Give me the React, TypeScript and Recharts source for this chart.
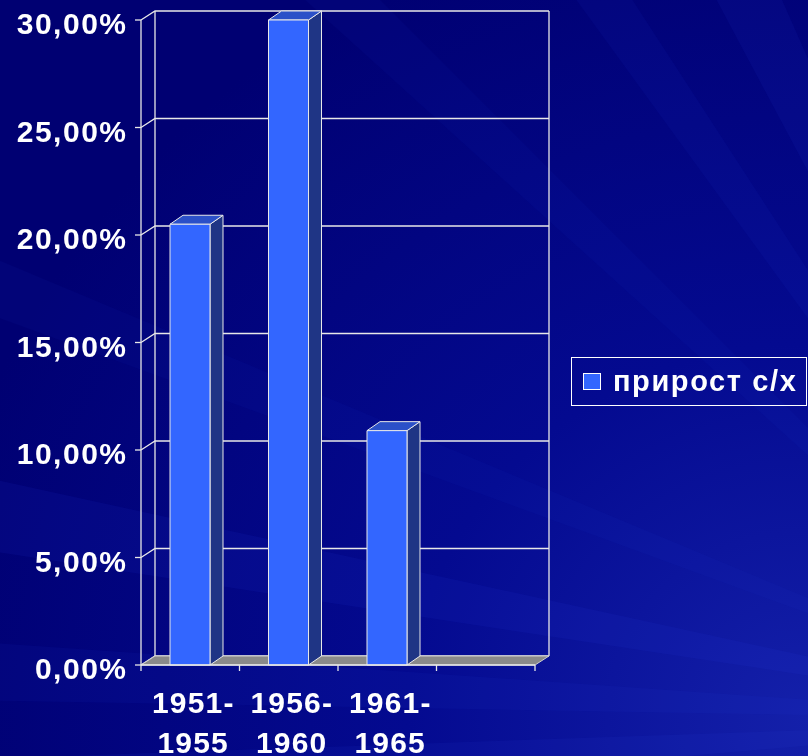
import React from "react";
import { BarChart, Bar, XAxis, YAxis, CartesianGrid, ReferenceArea, Legend } from "recharts";

// периоды (4-я категория пустая, как в оригинале)
const categories = ["1951-1955", "1956-1960", "1961-1965", ""];
const growth: (number | null)[] = [20.5, 30.0, 10.9, null];
const yTicks = [0, 5, 10, 15, 20, 25, 30];
const seriesName = "прирост с/х";

const data = categories.map((period, i) => ({ period, growth: growth[i] }));

const DX = 14; // глубина стенки
const DY = -9;
const BAR_DX = 13;
const BAR_DY = -9;
const LINE = "#E8E8E8";
const FONT = "'Liberation Sans', Arial, sans-serif";

function fmtPct(v: number): string {
  return `${v.toFixed(2).replace(".", ",")}%`;
}

function Background() {
  const P = "1100,720";
  const rays = [
    ["-50,240", "-50,300", 0.05],
    ["-50,470", "-50,545", 0.09],
    ["-50,640", "-50,700", 0.07],
    ["250,-50", "330,-50", 0.05],
    ["540,-50", "600,-50", 0.07],
    ["690,-50", "760,-50", 0.08],
    ["-50,760", "-50,820", 0.08],
  ] as const;
  return (
    <svg width={808} height={756} style={{ position: "absolute", left: 0, top: 0 }}>
      <defs>
        <radialGradient id="bg" cx="100%" cy="95%" r="110%">
          <stop offset="0" stopColor="#1420aa" />
          <stop offset="0.45" stopColor="#040a90" />
          <stop offset="1" stopColor="#000072" />
        </radialGradient>
      </defs>
      <rect width={808} height={756} fill="url(#bg)" />
      {rays.map(([a, b, o], i) => (
        <polygon key={i} points={`${P} ${a} ${b}`} fill="#3048e8" opacity={o} />
      ))}
    </svg>
  );
}

// задняя стенка: линии сетки со сдвигом в глубину
function wallLine(props: any) {
  const { x1, x2, y1 } = props;
  return (
    <polyline
      key={`wall-${y1}`}
      points={`${x1},${y1} ${x1 + DX},${y1 + DY} ${x2 + DX},${y1 + DY}`}
      fill="none"
      stroke={LINE}
      strokeWidth={1.3}
    />
  );
}

function WallAndFloor(props: any) {
  const { x, y, width, height } = props;
  const bottom = y + height;
  const right = x + width;
  return (
    <g>
      <line x1={x + DX} y1={y + DY} x2={x + DX} y2={bottom + DY} stroke={LINE} strokeWidth={1.3} />
      <line x1={right + DX} y1={y + DY} x2={right + DX} y2={bottom + DY} stroke={LINE} strokeWidth={1.3} />
      <polygon
        points={`${x},${bottom} ${right},${bottom} ${right + DX},${bottom + DY} ${x + DX},${bottom + DY}`}
        fill="#8a8a8a"
        stroke="#cfcfcf"
        strokeWidth={1}
      />
    </g>
  );
}

function Bar3D(props: any) {
  const { x, y, width, height } = props;
  if (height == null || height <= 0) return null;
  const r = x + width;
  const b = y + height;
  return (
    <g stroke={LINE} strokeWidth={1} strokeLinejoin="round">
      <polygon points={`${r},${y} ${r + BAR_DX},${y + BAR_DY} ${r + BAR_DX},${b + BAR_DY} ${r},${b}`} fill="#1f3585" />
      <polygon points={`${x},${y} ${r},${y} ${r + BAR_DX},${y + BAR_DY} ${x + BAR_DX},${y + BAR_DY}`} fill="#2b50c8" />
      <rect x={x} y={y} width={width} height={height} fill="#3366FF" />
    </g>
  );
}

function YTick({ x, y, payload }: any) {
  return (
    <text
      x={x + 1.5}
      y={y + 14}
      textAnchor="end"
      fill="#fff"
      fontFamily={FONT}
      fontWeight="bold"
      fontSize={30}
      letterSpacing={1.5}
    >
      {fmtPct(payload.value)}
    </text>
  );
}

function XTick({ x, y, payload, index, visibleTicksCount }: any) {
  const half = payload.offset || 49;
  const label: string = payload.value || "";
  const cut = label.indexOf("-");
  const lines = cut >= 0 ? [label.slice(0, cut + 1), label.slice(cut + 1)] : [label];
  const last = index === (visibleTicksCount ?? categories.length) - 1;
  return (
    <g>
      <line x1={x - half} y1={y - 6} x2={x - half} y2={y} stroke={LINE} strokeWidth={1.3} />
      {last && <line x1={x + half} y1={y - 6} x2={x + half} y2={y} stroke={LINE} strokeWidth={1.3} />}
      {label && (
        <text
          x={x + 3}
          y={y + 42}
          textAnchor="middle"
          fill="#fff"
          fontFamily={FONT}
          fontWeight="bold"
          fontSize={30}
          letterSpacing={1.2}
        >
          {lines.map((t, i) => (
            <tspan key={i} x={x + 3} dy={i === 0 ? 0 : 40}>
              {t}
            </tspan>
          ))}
        </text>
      )}
    </g>
  );
}

function LegendBox({ payload }: any) {
  const name = payload && payload[0] ? payload[0].value : seriesName;
  return (
    <div
      style={{
        width: 236,
        height: 49,
        boxSizing: "border-box",
        border: "1px solid #fff",
        display: "flex",
        alignItems: "center",
        paddingLeft: 11,
        fontFamily: FONT,
        fontWeight: "bold",
        fontSize: 29,
        letterSpacing: 1.6,
        color: "#fff",
        whiteSpace: "nowrap",
      }}
    >
      <span
        style={{
          width: 18,
          height: 17,
          boxSizing: "border-box",
          background: "#3366FF",
          border: "1px solid #fff",
          display: "inline-block",
          marginRight: 12,
        }}
      />
      {name}
    </div>
  );
}

export default function App() {
  return (
    <div style={{ position: "fixed", left: 0, top: 0, width: 808, height: 756, overflow: "hidden" }}>
      <Background />
      <div style={{ position: "absolute", left: 0, top: 0 }}>
        {/* легенда занимает 236px справа, поэтому правый отступ 37 */}
        <BarChart width={808} height={756} data={data} margin={{ top: 20, right: 37, bottom: 0, left: 0 }} barSize={40}>
          <CartesianGrid horizontal={wallLine} vertical={false} />
          <ReferenceArea y1={0} y2={30} shape={(p: any) => <WallAndFloor {...p} />} ifOverflow="visible" />
          <XAxis
            dataKey="period"
            height={91}
            interval={0}
            tickSize={6}
            tickMargin={0}
            tickLine={false}
            axisLine={{ stroke: LINE, strokeWidth: 1.3 }}
            tick={<XTick />}
          />
          <YAxis
            type="number"
            domain={[0, 30]}
            ticks={yTicks}
            interval={0}
            width={141}
            tickSize={6}
            tickMargin={9}
            axisLine={{ stroke: LINE, strokeWidth: 1.3 }}
            tickLine={{ stroke: LINE, strokeWidth: 1.3 }}
            tick={<YTick />}
          />
          <Legend
            layout="horizontal"
            align="right"
            verticalAlign="middle"
            wrapperStyle={{ position: "absolute", left: 571, top: 357, width: 236, height: 49 }}
            content={(p: any) => <LegendBox payload={p.payload} />}
          />
          <Bar dataKey="growth" name={seriesName} shape={(p: any) => <Bar3D {...p} />} isAnimationActive={false} />
        </BarChart>
      </div>
    </div>
  );
}
